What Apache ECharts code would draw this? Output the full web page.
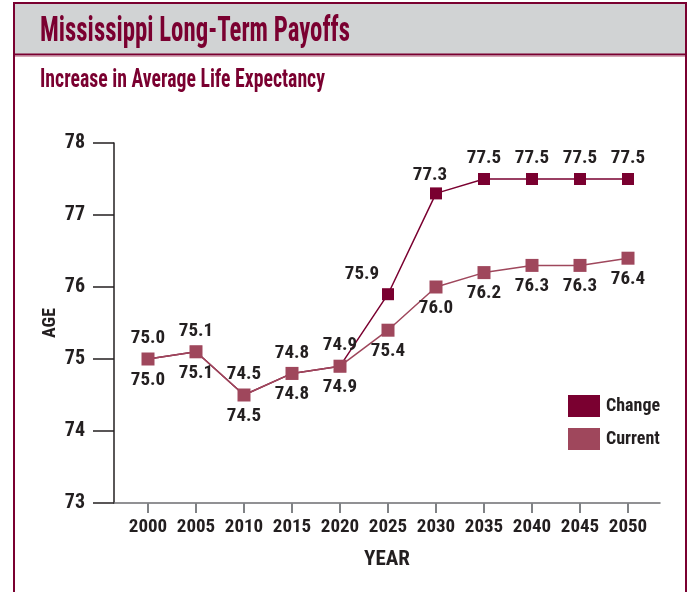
<!DOCTYPE html>
<html>
<head>
<meta charset="utf-8">
<script src="https://cdn.jsdelivr.net/npm/echarts@6/dist/echarts.min.js"></script>
<style>
  html, body { margin: 0; padding: 0; background: #ffffff; }
  #chart { width: 689px; height: 592px; }
</style>
</head>
<body>
<div id="chart"></div>
<script>
// Life expectancy projections for Mississippi, 2000-2050
const years = [2000, 2005, 2010, 2015, 2020, 2025, 2030, 2035, 2040, 2045, 2050];
const changeValues = [75.0, 75.1, 74.5, 74.8, 74.9, 75.9, 77.3, 77.5, 77.5, 77.5, 77.5];
const currentValues = [75.0, 75.1, 74.5, 74.8, 74.9, 75.4, 76.0, 76.2, 76.3, 76.3, 76.4];
const seriesNames = ['Change', 'Current'];
const titleText = 'Mississippi Long-Term Payoffs';
const subtitleText = 'Increase in Average Life Expectancy';

const MAROON = '#7a0030';
const ROSE = '#9f475c';
const INK = '#231f20';
const FONT = '"Roboto Condensed", "Liberation Sans Narrow", sans-serif';

// horizontal squeeze so a heading fills a given width
function squeeze(text, size, targetWidth) {
  const ctx = document.createElement('canvas').getContext('2d');
  ctx.font = 'bold ' + size + 'px ' + FONT;
  const w = ctx.measureText(text).width;
  return Math.min(1, targetWidth / w);
}

const chart = echarts.init(document.getElementById('chart'), null, { renderer: 'canvas' });

const labelStyle = {
  show: true,
  fontFamily: FONT,
  fontWeight: 'bold',
  fontSize: 19,
  color: INK,
  distance: 5,
  formatter: p => p.value[1].toFixed(1)
};

const changeData = years.map((y, i) => {
  const item = { value: [y, changeValues[i]] };
  // the 2025 label sits up and to the left so it clears the rising line
  if (y === 2025) item.label = { offset: [-26, 1] };
  if (y === 2030) item.label = { offset: [-6, 2] };
  return item;
});
const currentData = years.map((y, i) => ({ value: [y, currentValues[i]] }));

function render() {
  chart.setOption({
    animation: false,
    backgroundColor: '#ffffff',
    graphic: [
      // outer frame
      { type: 'rect', shape: { x: 14, y: 3, width: 672, height: 600 },
        style: { fill: '#ffffff', stroke: MAROON, lineWidth: 2 }, z: -10 },
      // grey header band
      { type: 'rect', shape: { x: 15, y: 4, width: 670, height: 50 },
        style: { fill: '#d1d3d4' }, z: -9 },
      { type: 'line', shape: { x1: 14, y1: 54.5, x2: 686, y2: 54.5 },
        style: { stroke: MAROON, lineWidth: 2 }, z: -8 },
      { type: 'line', shape: { x1: 15, y1: 56.5, x2: 685, y2: 56.5 },
        style: { stroke: '#d7a7b5', lineWidth: 1 }, z: -8 },
      { type: 'text', x: 40, y: 15, scaleX: squeeze(titleText, 35, 310), z: 5,
        style: { text: titleText, fill: MAROON, fontFamily: FONT, fontWeight: 'bold',
                 fontSize: 35, textVerticalAlign: 'top' } },
      { type: 'text', x: 40, y: 67, scaleX: squeeze(subtitleText, 26, 285), z: 5,
        style: { text: subtitleText, fill: MAROON, fontFamily: FONT, fontWeight: 'bold',
                 fontSize: 26, textVerticalAlign: 'top' } }
    ],
    legend: {
      orient: 'vertical',
      left: 563,
      top: 390,
      itemWidth: 32,
      itemHeight: 22,
      itemGap: 11,
      icon: 'rect',
      textStyle: { fontFamily: FONT, fontSize: 18, fontWeight: 'bold', color: INK, padding: [0, 0, 0, 1] },
      data: seriesNames
    },
    // grid 0 carries the axis frame, grid 1 places the years
    grid: [
      { left: 114, right: 29, top: 143, bottom: 89 },
      { left: 148, right: 61, top: 143, bottom: 89 }
    ],
    xAxis: [
      {
        gridIndex: 0,
        type: 'value',
        min: 0,
        max: 1,
        name: 'YEAR',
        nameLocation: 'middle',
        nameGap: 46,
        nameTextStyle: { fontFamily: FONT, fontWeight: 'bold', fontSize: 21, color: INK },
        axisLine: { onZero: false, lineStyle: { color: '#6d6e71', width: 1.5 } },
        axisTick: { show: false },
        axisLabel: { show: false },
        splitLine: { show: false }
      },
      {
        gridIndex: 1,
        type: 'value',
        min: 2000,
        max: 2050,
        interval: 5,
        axisLine: { show: false, onZero: false },
        axisTick: { show: true, length: 10, lineStyle: { color: '#808285', width: 2 } },
        axisLabel: { margin: 15, fontFamily: FONT, fontWeight: 'bold', fontSize: 19, color: INK,
                     formatter: v => String(v) },
        splitLine: { show: false }
      }
    ],
    yAxis: [
      {
        gridIndex: 0,
        type: 'value',
        min: 73,
        max: 78,
        interval: 1,
        name: 'AGE',
        nameLocation: 'middle',
        nameGap: 55,
        nameMoveOverlap: false,
        nameRotate: 90,
        nameTextStyle: { fontFamily: FONT, fontWeight: 'bold', fontSize: 18, color: INK },
        axisLine: { show: true, lineStyle: { color: INK, width: 1.5 } },
        axisTick: { show: true, length: 21, lineStyle: { color: INK, width: 1.5 } },
        axisLabel: { margin: 29, fontFamily: FONT, fontWeight: 'bold', fontSize: 20, color: INK },
        splitLine: { show: false }
      },
      {
        gridIndex: 1,
        type: 'value',
        min: 73,
        max: 78,
        interval: 1,
        show: false
      }
    ],
    series: [
      {
        name: 'Change',
        type: 'line',
        xAxisIndex: 1,
        yAxisIndex: 1,
        data: changeData,
        symbol: 'rect',
        symbolSize: 12,
        itemStyle: { color: MAROON },
        lineStyle: { color: MAROON, width: 1.5 },
        label: Object.assign({ position: 'top' }, labelStyle),
        z: 2
      },
      {
        name: 'Current',
        type: 'line',
        xAxisIndex: 1,
        yAxisIndex: 1,
        data: currentData,
        symbol: 'rect',
        symbolSize: 13,
        itemStyle: { color: ROSE },
        lineStyle: { color: ROSE, width: 1.5 },
        label: Object.assign({ position: 'bottom' }, labelStyle),
        z: 3
      }
    ]
  });
}

if (document.fonts && document.fonts.load) {
  Promise.all([
    document.fonts.load('bold 20px "Roboto Condensed"'),
    document.fonts.load('20px "Roboto Condensed"')
  ]).then(render, render);
} else {
  render();
}
</script>
</body>
</html>
